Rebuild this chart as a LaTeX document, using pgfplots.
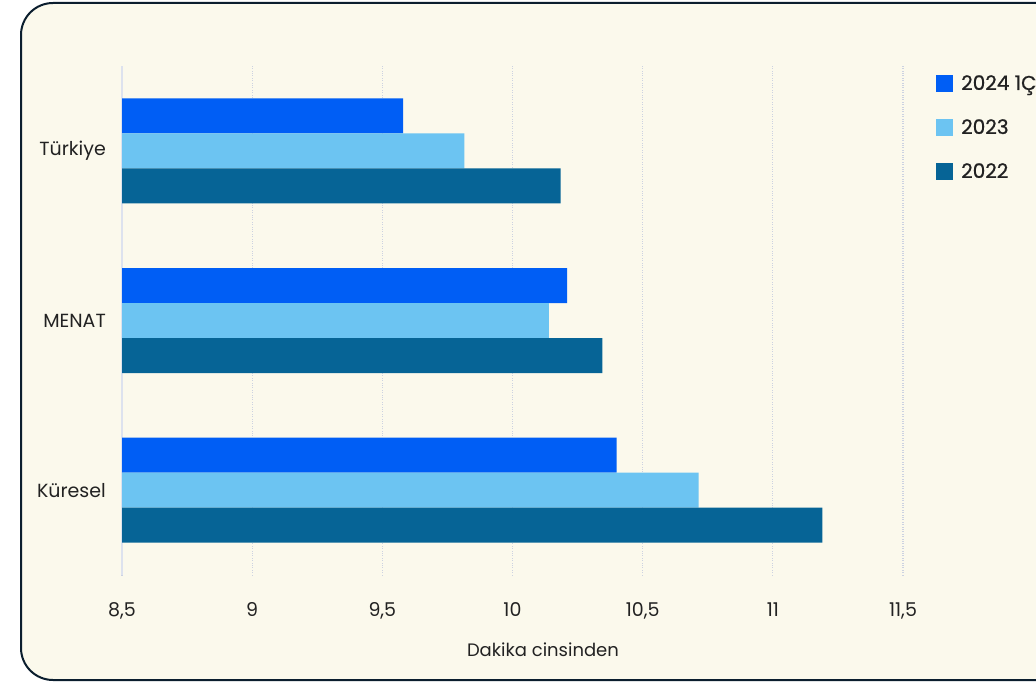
\documentclass[border=0pt]{standalone}
\usepackage{pgfplots}
\pgfplotsset{compat=1.18}
\usepackage{fontspec}
\setmainfont{Poppins}
\newfontfamily\legfont[FakeBold=0.8]{Poppins}

\definecolor{frame}{HTML}{0B1E2E}
\definecolor{cream}{HTML}{FBF9EC}
\definecolor{c24}{HTML}{005EF5}
\definecolor{c23}{HTML}{6CC4F2}
\definecolor{c22}{HTML}{066496}
\definecolor{gridc}{HTML}{CCD2E1}
\definecolor{axisc}{HTML}{DDE2EE}
\definecolor{txt}{HTML}{222222}

\begin{document}
\begin{tikzpicture}[x=1pt,y=1pt]
\useasboundingbox (0,0) rectangle (1036,681);
\clip (0,0) rectangle (1036,681);
\fill[white] (0,0) rectangle (1036,681);
\draw[line width=2pt, draw=frame, fill=cream, rounded corners=32pt] (21,1) rectangle (1090,678);
\begin{axis}[
  at={(122pt,106pt)}, anchor=south west,
  scale only axis, width=781pt, height=509pt,
  xmin=8.5, xmax=11.5, ymin=-0.5, ymax=2.5,
  xbar, bar width=35pt,
  axis lines*=left,
  x axis line style={draw=none},
  y axis line style={draw=axisc, line width=1.5pt, -},
  major tick length=0pt,
  xtick={8.5,9,9.5,10,10.5,11,11.5},
  xticklabels={{8,5},9,{9,5},10,{10,5},11,{11,5}},
  ytick={0,1,2},
  yticklabels={Küresel,MENAT,Türkiye},
  xmajorgrids,
  grid style={draw=gridc, dotted, line width=1.3pt},
  tick label style={font=\fontsize{19}{19}\selectfont, text=txt},
  xticklabel style={anchor=base, yshift=-41pt},
  yticklabel style={anchor=east, inner sep=0pt, xshift=-16pt},
  xlabel={Dakika cinsinden},
  xlabel style={at={(axis description cs:0.539,-0.161)}, anchor=base, font=\fontsize{18}{18}\selectfont, text=txt},
  legend style={at={(axis description cs:1.0423,0.983)}, anchor=north west,
    draw=none, fill=none, inner sep=0pt, row sep=27pt, column sep=8pt,
    font=\legfont\fontsize{20}{20}\selectfont, text=txt,
    nodes={inner sep=0pt, anchor=west}},
  legend cell align=left,
  legend image code/.code={\fill[#1] (0pt,-8.5pt) rectangle (17pt,8.5pt);},
]
\addplot[fill=c24, draw=none, bar shift=35pt] coordinates {(10.40,0) (10.21,1) (9.58,2)};
\addplot[fill=c23, draw=none, bar shift=0pt] coordinates {(10.715,0) (10.14,1) (9.815,2)};
\addplot[fill=c22, draw=none, bar shift=-35pt] coordinates {(11.19,0) (10.345,1) (10.185,2)};
\legend{2024 1Ç,2023,2022}
\end{axis}
\end{tikzpicture}
\end{document}
